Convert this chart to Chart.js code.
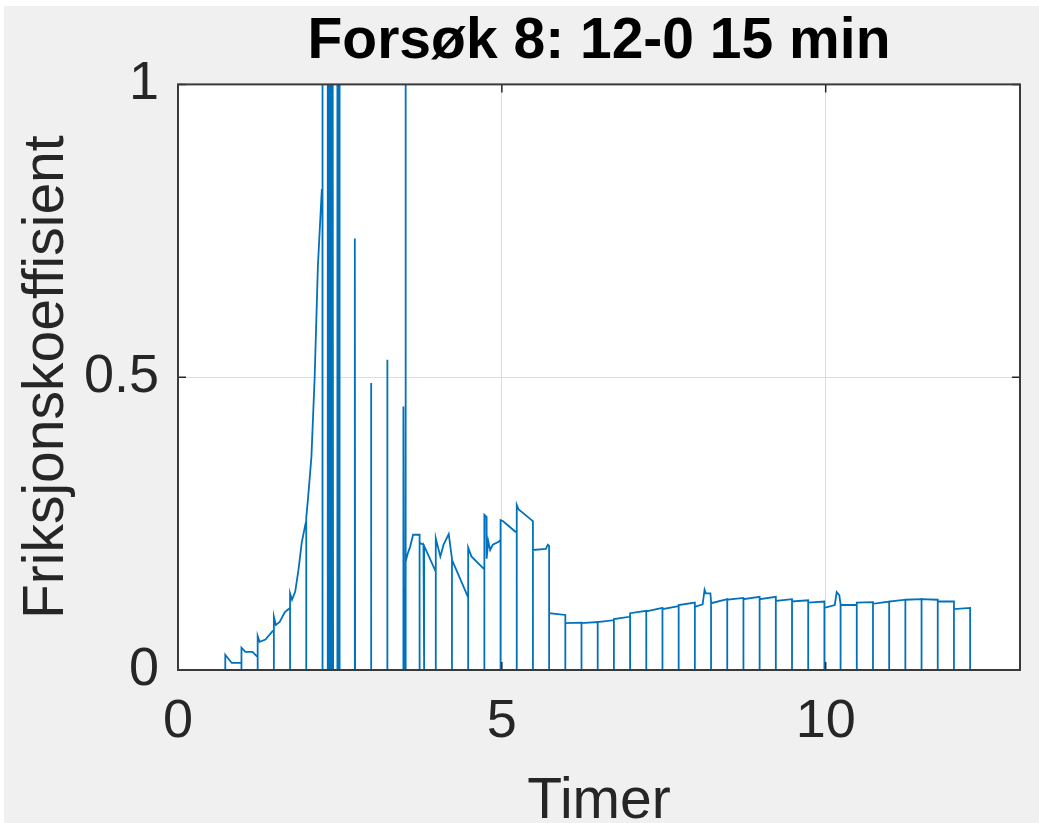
<!DOCTYPE html>
<html>
<head>
<meta charset="utf-8">
<script src="https://cdn.jsdelivr.net/npm/chart.js@4.4.1/dist/chart.umd.min.js"></script>
<style>
  html, body { margin: 0; padding: 0; background: #ffffff; }
  canvas { display: block; }
</style>
</head>
<body>
<canvas id="chart" width="1039" height="823"></canvas>
<script>
// Friction coefficient over time, 15-minute cycles; the signal drops to zero at each cycle change.
// Vertices are [hours, friction coefficient].

// Run-in: slow rise, then steep climb into the unstable phase
const runIn = [
  [0.73, 0], [0.73, 0.026], [0.83, 0.012], [0.98, 0.012], [0.98, 0],
  [0.98, 0.038], [1.04, 0.031], [1.15, 0.031], [1.23, 0.022], [1.23, 0],
  [1.23, 0.058], [1.26, 0.048], [1.35, 0.052], [1.45, 0.065], [1.48, 0.068], [1.48, 0],
  [1.48, 0.091], [1.51, 0.077], [1.57, 0.082], [1.65, 0.099], [1.73, 0.106], [1.73, 0],
  [1.73, 0.131], [1.76, 0.120], [1.81, 0.134], [1.86, 0.171], [1.91, 0.217], [1.96, 0.245], [1.98, 0.255], [1.98, 0],
  [1.98, 0.260], [2.01, 0.296], [2.06, 0.364], [2.11, 0.500], [2.16, 0.690], [2.22, 0.820], [2.23, 0.820], [2.23, 0]
];

// Unstable phase: spikes beyond the axis limit and isolated peaks at cycle changes
const unstable = [
  [2.23, 1.6], [2.235, 0], [2.31, 0], [2.312, 1.6], [2.325, 0], [2.335, 1.6], [2.35, 0],
  [2.36, 1.6], [2.375, 0], [2.385, 1.6], [2.395, 0], [2.455, 0], [2.457, 1.6], [2.465, 0],
  [2.485, 0], [2.487, 1.6], [2.495, 0],
  [2.73, 0], [2.73, 0.737], [2.735, 0],
  [2.98, 0], [2.98, 0.49], [2.985, 0],
  [3.23, 0], [3.23, 0.53], [3.235, 0],
  [3.48, 0], [3.48, 0.45], [3.49, 0], [3.51, 0], [3.51, 1.0], [3.515, 0.17]
];

// Recovery: friction around 0.2-0.28
const recovery = [
  [3.52, 0.185], [3.55, 0.200], [3.58, 0.209], [3.63, 0.231], [3.73, 0.231], [3.73, 0],
  [3.73, 0.217], [3.79, 0.214], [3.80, 0], [3.80, 0.212], [3.98, 0.168], [3.98, 0],
  [3.98, 0.225], [4.05, 0.194], [4.10, 0.214], [4.18, 0.232], [4.23, 0.190], [4.23, 0],
  [4.23, 0.188], [4.48, 0.124], [4.48, 0],
  [4.48, 0.209], [4.53, 0.194], [4.71, 0.174], [4.73, 0.172], [4.73, 0],
  [4.73, 0.265], [4.76, 0.262], [4.765, 0.190], [4.79, 0.220], [4.82, 0.205], [4.86, 0.214], [4.95, 0.219], [4.98, 0.222], [4.98, 0],
  [4.98, 0.256], [5.02, 0.254], [5.21, 0.236], [5.23, 0.236], [5.23, 0],
  [5.23, 0.282], [5.26, 0.274], [5.46, 0.256], [5.48, 0.254], [5.48, 0],
  [5.48, 0.205], [5.68, 0.207], [5.71, 0.214], [5.73, 0.212], [5.73, 0],
  [5.73, 0.097], [5.98, 0.094], [5.98, 0]
];

// Steady state: friction settles around 0.08-0.12
const steady = [
  [5.98, 0.080], [6.23, 0.081], [6.23, 0],
  [6.23, 0.080], [6.48, 0.082], [6.48, 0],
  [6.48, 0.082], [6.73, 0.085], [6.73, 0],
  [6.73, 0.087], [6.98, 0.091], [6.98, 0],
  [6.98, 0.097], [7.23, 0.101], [7.23, 0],
  [7.23, 0.100], [7.48, 0.106], [7.48, 0],
  [7.48, 0.104], [7.73, 0.109], [7.73, 0],
  [7.73, 0.111], [7.98, 0.115], [7.98, 0],
  [7.98, 0.108], [8.10, 0.112], [8.13, 0.137], [8.15, 0.131], [8.22, 0.131], [8.23, 0.117], [8.23, 0],
  [8.23, 0.114], [8.48, 0.121], [8.48, 0],
  [8.48, 0.120], [8.73, 0.123], [8.73, 0],
  [8.73, 0.121], [8.98, 0.125], [8.98, 0],
  [8.98, 0.121], [9.23, 0.125], [9.23, 0],
  [9.23, 0.118], [9.48, 0.121], [9.48, 0],
  [9.48, 0.117], [9.73, 0.119], [9.73, 0],
  [9.73, 0.115], [9.98, 0.117], [9.98, 0],
  [9.98, 0.106], [10.14, 0.111], [10.17, 0.133], [10.21, 0.128], [10.23, 0.112], [10.23, 0],
  [10.23, 0.111], [10.48, 0.111], [10.48, 0],
  [10.48, 0.115], [10.73, 0.116], [10.73, 0],
  [10.73, 0.113], [10.98, 0.117], [10.98, 0],
  [10.98, 0.117], [11.23, 0.120], [11.23, 0],
  [11.23, 0.120], [11.48, 0.121], [11.48, 0],
  [11.48, 0.121], [11.73, 0.120], [11.73, 0],
  [11.73, 0.117], [11.98, 0.117], [11.98, 0],
  [11.98, 0.104], [12.23, 0.106], [12.23, 0]
];

const xTickValues = [0, 5, 10];
const yTickValues = [0, 0.5, 1];
const titleText = 'Forsøk 8: 12-0 15 min';
const xLabel = 'Timer';
const yLabel = 'Friksjonskoeffisient';

const points = [...runIn, ...unstable, ...recovery, ...steady].map(([x, y]) => ({ x, y }));

const FONT = "'Liberation Sans', Arial, Helvetica, sans-serif";
const AXIS_COLOR = '#262626';

// Figure background, white axes box, box outline and inward tick marks
const framePlugin = {
  id: 'frame',
  beforeDraw(chart) {
    const { ctx, chartArea: a, width, height } = chart;
    ctx.save();
    ctx.fillStyle = '#ffffff';
    ctx.fillRect(0, 0, width, height);
    ctx.fillStyle = '#f0f0f0';
    ctx.fillRect(4, 6, width - 4, height - 6);
    ctx.fillStyle = '#ffffff';
    ctx.fillRect(a.left, a.top, a.right - a.left, a.bottom - a.top);
    ctx.restore();
  },
  afterDatasetsDraw(chart) {
    const { ctx, chartArea: a, scales } = chart;
    const len = 8;
    ctx.save();
    ctx.strokeStyle = AXIS_COLOR;
    ctx.lineWidth = 1.5;
    ctx.beginPath();
    xTickValues.forEach(v => {
      const px = scales.x.getPixelForValue(v);
      ctx.moveTo(px, a.bottom); ctx.lineTo(px, a.bottom - len);
      ctx.moveTo(px, a.top); ctx.lineTo(px, a.top + len);
    });
    yTickValues.forEach(v => {
      const py = scales.y.getPixelForValue(v);
      ctx.moveTo(a.left, py); ctx.lineTo(a.left + len, py);
      ctx.moveTo(a.right, py); ctx.lineTo(a.right - len, py);
    });
    ctx.stroke();
    ctx.lineWidth = 2;
    ctx.strokeStyle = '#3a3a3a';
    ctx.strokeRect(a.left, a.top, a.right - a.left, a.bottom - a.top);
    ctx.restore();
  }
};

new Chart(document.getElementById('chart'), {
  type: 'scatter',
  data: {
    datasets: [{
      data: points,
      showLine: true,
      borderColor: '#0072BD',
      backgroundColor: '#0072BD',
      borderWidth: 1.8,
      pointRadius: 0,
      pointHoverRadius: 0,
      tension: 0
    }]
  },
  options: {
    responsive: false,
    animation: false,
    devicePixelRatio: 1,
    layout: { padding: { left: 0, right: 19, top: 0, bottom: 0 } },
    plugins: {
      legend: { display: false },
      tooltip: { enabled: false },
      title: {
        display: true,
        fullSize: false,
        text: titleText,
        color: '#000000',
        font: { family: FONT, size: 57, weight: 'bold', lineHeight: 1.2 },
        padding: { top: 8, bottom: 8 }
      }
    },
    scales: {
      x: {
        type: 'linear',
        min: 0,
        max: 13,
        afterBuildTicks: (scale) => { scale.ticks = xTickValues.map(v => ({ value: v })); },
        afterFit: (scale) => { scale.height = 153; },
        grid: { color: '#dcdcdc', lineWidth: 1, drawTicks: false },
        border: { display: false },
        ticks: {
          color: AXIS_COLOR,
          font: { family: FONT, size: 54 },
          padding: 20,
          maxRotation: 0,
          callback: (v) => String(v)
        },
        title: {
          display: true,
          text: xLabel,
          color: AXIS_COLOR,
          font: { family: FONT, size: 57, lineHeight: 0.7 },
          padding: { top: 0, bottom: 1 }
        }
      },
      y: {
        type: 'linear',
        min: 0,
        max: 1,
        afterBuildTicks: (scale) => { scale.ticks = yTickValues.map(v => ({ value: v })); },
        afterFit: (scale) => { scale.width = 178; },
        grid: { color: '#dcdcdc', lineWidth: 1, drawTicks: false },
        border: { display: false },
        ticks: {
          color: AXIS_COLOR,
          font: { family: FONT, size: 54 },
          padding: 19,
          callback: (v) => String(v)
        },
        title: {
          display: true,
          text: yLabel,
          color: AXIS_COLOR,
          font: { family: FONT, size: 57, lineHeight: 1.2 },
          padding: { top: 13, bottom: 0 }
        }
      }
    }
  },
  plugins: [framePlugin]
});
</script>
</body>
</html>
